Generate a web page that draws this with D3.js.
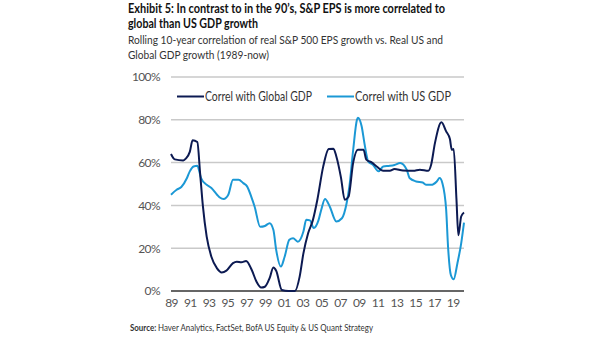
<!DOCTYPE html>
<html>
<head>
<meta charset="utf-8">
<script src="https://cdn.jsdelivr.net/npm/d3@7"></script>
<style>
  body { margin: 0; background: #fff; }
  text { font-family: Lato, "Open Sans", sans-serif; }
</style>
</head>
<body>
<div id="chart"></div>
<script>
// values (decimal years, % correlation)
const globalYears = [1989.0, 1989.4, 1990.3, 1990.6, 1991.0, 1991.3, 1991.8, 1992.1, 1992.4, 1992.8, 1993.3, 1993.9, 1994.4, 1994.9, 1995.6, 1996.0, 1996.5, 1997.0, 1997.6, 1998.1, 1998.6, 1999.0, 1999.5, 1999.9, 2000.2, 2000.8, 2001.5, 2002.2, 2002.7, 2003.1, 2003.6, 2004.1, 2004.6, 2005.2, 2005.8, 2006.3, 2006.6, 2007.1, 2007.5, 2007.9, 2008.4, 2008.9, 2009.5, 2009.8, 2010.4, 2010.9, 2011.6, 2012.3, 2012.8, 2013.7, 2014.8, 2015.5, 2016.4, 2016.7, 2017.1, 2017.8, 2018.3, 2018.7, 2018.9, 2019.1, 2019.4, 2019.6, 2019.9, 2020.2];
const globalVals  = [64, 61.5, 61, 62, 65, 70.4, 69.6, 55, 39.5, 25.4, 16, 10.6, 8.7, 9.5, 13, 13.7, 13.4, 14, 9.8, 4.4, 1.6, 2, 6, 11, 9.5, 0.5, 0, 0, 6.7, 17.6, 27, 33, 43, 58, 66.4, 66.5, 63, 53, 42.6, 44, 60, 66, 66, 61.4, 60, 58.2, 56.2, 56.2, 57, 56.3, 56.2, 56.7, 56.2, 59, 69, 78.8, 74.6, 71, 66, 66.4, 42.6, 26, 34.8, 36.7];

const usYears = [1989.0, 1989.6, 1990.1, 1990.7, 1991.0, 1991.4, 1991.8, 1992.2, 1992.8, 1993.3, 1993.9, 1994.2, 1994.6, 1995.1, 1995.6, 1996.2, 1996.7, 1997.1, 1997.6, 1997.9, 1998.5, 1999.0, 1999.5, 1999.9, 2000.2, 2000.7, 2001.1, 2001.6, 2002.0, 2002.5, 2003.1, 2003.4, 2003.8, 2004.2, 2004.7, 2005.0, 2005.4, 2005.9, 2006.6, 2007.2, 2007.7, 2008.0, 2008.4, 2008.8, 2008.9, 2009.3, 2009.6, 2010.0, 2010.5, 2011.1, 2011.6, 2012.3, 2012.8, 2013.4, 2014.1, 2014.4, 2015.1, 2015.8, 2016.2, 2016.7, 2017.3, 2017.6, 2017.9, 2018.3, 2018.5, 2018.8, 2019.1, 2019.5, 2019.9, 2020.2];
const usVals  = [45, 47.3, 48.6, 52.8, 55.9, 58.2, 58.5, 52.8, 49.6, 48.1, 45, 43.7, 43, 45, 52, 52, 50.4, 48.9, 43.4, 39.5, 30, 30.4, 31.7, 28.6, 19.2, 11.4, 16, 23.9, 24.7, 23, 27.8, 33.3, 33, 29.4, 33, 38, 43, 39.5, 32.5, 34, 41, 49, 66, 80, 81, 77, 69, 60.6, 59, 55.9, 58.2, 58.5, 58.9, 59.8, 56.7, 52.8, 51.2, 50.7, 49.6, 49.6, 51.2, 52.8, 50.4, 38, 20.8, 7.5, 5.5, 13, 22.3, 32];

const yTicks = [0, 20, 40, 60, 80, 100];
const xTicks = [1989, 1991, 1993, 1995, 1997, 1999, 2001, 2003, 2005, 2007, 2009, 2011, 2013, 2015, 2017, 2019];
const seriesNames = ["Correl with Global GDP", "Correl with US GDP"];
const colors = ["#0c1a52", "#1b98d5"];

const W = 605, H = 341;
const svg = d3.select("#chart").append("svg")
    .attr("width", W).attr("height", H);

// titles
svg.append("text").attr("x", 128).attr("y", 13)
    .attr("font-size", 13).attr("font-weight", "bold").attr("fill", "#111")
    .attr("textLength", 317).attr("lengthAdjust", "spacingAndGlyphs")
    .text("Exhibit 5: In contrast to in the 90\u2019s, S&P EPS is more correlated to");
svg.append("text").attr("x", 128).attr("y", 28)
    .attr("font-size", 13).attr("font-weight", "bold").attr("fill", "#111")
    .attr("textLength", 130).attr("lengthAdjust", "spacingAndGlyphs")
    .text("global than US GDP growth");
svg.append("text").attr("x", 128).attr("y", 44)
    .attr("font-size", 12).attr("fill", "#333")
    .attr("textLength", 315).attr("lengthAdjust", "spacingAndGlyphs")
    .text("Rolling 10-year correlation of real S&P 500 EPS growth vs. Real US and");
svg.append("text").attr("x", 128).attr("y", 59)
    .attr("font-size", 12).attr("fill", "#333")
    .attr("textLength", 141).attr("lengthAdjust", "spacingAndGlyphs")
    .text("Global GDP growth (1989-now)");

// scales
const x = d3.scaleLinear().domain([1989, 2020.2]).range([171, 464]);
const y = d3.scaleLinear().domain([0, 100]).range([291, 77]);

// gridlines
svg.append("g").selectAll("line")
  .data(yTicks.filter(d => d > 0))
  .join("line")
    .attr("x1", 171).attr("x2", 464)
    .attr("y1", d => y(d)).attr("y2", d => y(d))
    .attr("stroke", "#c9c9c9").attr("stroke-width", 1.5);

// y axis labels
const yAx = svg.append("g")
    .attr("transform", "translate(171,0)")
    .call(d3.axisLeft(y).tickValues(yTicks).tickSize(0).tickPadding(11).tickFormat(d => d + "%"));
yAx.select(".domain").remove();
yAx.selectAll("text").attr("font-size", 12).attr("fill", "#555")
    .attr("letter-spacing", -0.6)
    .style("font-family", "Lato, sans-serif");

// x axis
const xAx = svg.append("g")
    .attr("transform", "translate(0," + y(0) + ")")
    .call(d3.axisBottom(x).tickValues(xTicks).tickSize(0).tickPadding(7)
      .tickFormat(d => String(d % 100).padStart(2, "0")));
xAx.select(".domain").attr("stroke", "#333").attr("stroke-width", 1.5)
    .attr("d", "M171,0H464");
xAx.selectAll("text").attr("font-size", 12).attr("fill", "#555")
    .attr("letter-spacing", -0.6)
    .style("font-family", "Lato, sans-serif");

// lines
const line = d3.line()
    .x(d => x(d[0]))
    .y(d => y(d[1]))
    .curve(d3.curveMonotoneX);

svg.append("path")
    .datum(usYears.map((d, i) => [d, usVals[i]]))
    .attr("fill", "none").attr("stroke", colors[1]).attr("stroke-width", 2)
    .attr("d", line);

svg.append("path")
    .datum(globalYears.map((d, i) => [d, globalVals[i]]))
    .attr("fill", "none").attr("stroke", colors[0]).attr("stroke-width", 2)
    .attr("d", line);

// legend
const legX = [177, 327];
const legW = [107, 96];
seriesNames.forEach((name, i) => {
  svg.append("line")
      .attr("x1", legX[i]).attr("x2", legX[i] + 27)
      .attr("y1", 96.5).attr("y2", 96.5)
      .attr("stroke", colors[i]).attr("stroke-width", 2);
  svg.append("text")
      .attr("x", legX[i] + 28).attr("y", 101)
      .attr("font-size", 12.5).attr("fill", "#333")
      .attr("textLength", legW[i]).attr("lengthAdjust", "spacingAndGlyphs")
      .text(name);
});

// source
const src = svg.append("text").attr("x", 130).attr("y", 331)
    .attr("font-size", 8.5).attr("fill", "#333")
    .attr("textLength", 243).attr("lengthAdjust", "spacingAndGlyphs");
src.append("tspan").attr("font-weight", "bold").text("Source: ");
src.append("tspan").text("Haver Analytics, FactSet, BofA US Equity & US Quant Strategy");
</script>
</body>
</html>
